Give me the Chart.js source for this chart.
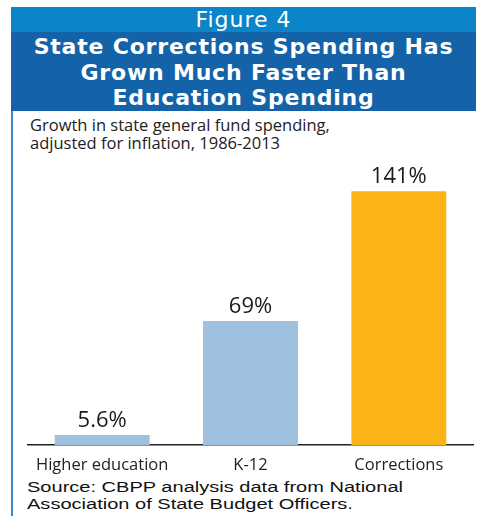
<!DOCTYPE html>
<html>
<head>
<meta charset="utf-8">
<script src="https://cdn.jsdelivr.net/npm/chart.js@4.4.1/dist/chart.umd.min.js"></script>
<style>
  body { margin: 0; background: #fff; width: 480px; height: 516px; overflow: hidden; position: relative; }
  #leftline { position: absolute; left: 11px; top: 7px; width: 2px; height: 509px; background: #3f86c6; }
  #fig { position: absolute; left: 11px; top: 7px; width: 465px; height: 25px; background: #0b84c9;
    color: #fff; font: 22px "DejaVu Sans", sans-serif; letter-spacing: 1px; text-align: center; line-height: 25px; }
  #ttl { position: absolute; left: 11px; top: 32px; width: 465px; height: 79px; background: #1463a9;
    color: #fff; font: bold 22px "DejaVu Sans", sans-serif; letter-spacing: 0.8px; text-align: center; line-height: 25.5px; padding-top: 2px; box-sizing: border-box; }
  #sub { position: absolute; left: 30px; top: 116px; font: 16.5px "Open Sans", sans-serif; color: #222; line-height: 18px; }
  #src { position: absolute; left: 27px; top: 478px; font: 15.5px "Liberation Sans", Arial, sans-serif; color: #111; line-height: 17px; white-space: nowrap; transform-origin: 0 0; }
  #wrap { position: absolute; left: 13px; top: 112px; width: 467px; height: 365px; }
</style>
</head>
<body>
<div id="leftline"></div>
<div id="fig">Figure 4</div>
<div id="ttl">State Corrections Spending Has<br>Grown Much Faster Than<br>Education Spending</div>
<div id="sub">Growth in state general fund spending,<br>adjusted for inflation, 1986-2013</div>
<div id="wrap"><canvas id="c"></canvas></div>
<div id="src"><span id="src1">Source: CBPP analysis data from National</span><br>Association of State Budget Officers.</div>
<script>
// data
var categories = ["Higher education", "K-12", "Corrections"];
var growth = [5.6, 69, 141];
var valueLabels = ["5.6%", "69%", "141%"];
var barColors = ["#9dc1de", "#9dc1de", "#fbb416"];

// source line in the original is a wide face, stretch it to the same width
var w = document.getElementById("src1").getBoundingClientRect().width;
document.getElementById("src").style.transform = "scaleX(" + (376 / w) + ")";

var barLabels = {
  id: "barLabels",
  afterDatasetsDraw: function (chart) {
    var ctx = chart.ctx;
    var meta = chart.getDatasetMeta(0);
    ctx.save();
    ctx.font = "22px 'Open Sans', sans-serif";
    ctx.fillStyle = "#1a1a1a";
    ctx.textAlign = "center";
    ctx.textBaseline = "bottom";
    meta.data.forEach(function (bar, i) {
      ctx.fillText(valueLabels[i], bar.x, bar.y - 3);
    });
    ctx.restore();
  }
};

new Chart(document.getElementById("c"), {
  type: "bar",
  data: {
    labels: categories,
    datasets: [{
      data: growth,
      backgroundColor: barColors,
      barPercentage: 0.8,
      categoryPercentage: 0.8
    }]
  },
  options: {
    responsive: true,
    maintainAspectRatio: false,
    animation: false,
    layout: { padding: { top: 45, left: 15, right: 7, bottom: 0 } },
    plugins: { legend: { display: false }, tooltip: { enabled: false } },
    scales: {
      x: {
        grid: { display: false },
        border: { display: true, color: "#222", width: 1.5 },
        ticks: { color: "#222", font: { family: "Open Sans", size: 16.5 }, padding: 2 }
      },
      y: { display: false, min: 0, max: 160 }
    }
  },
  plugins: [barLabels]
});
</script>
</body>
</html>
